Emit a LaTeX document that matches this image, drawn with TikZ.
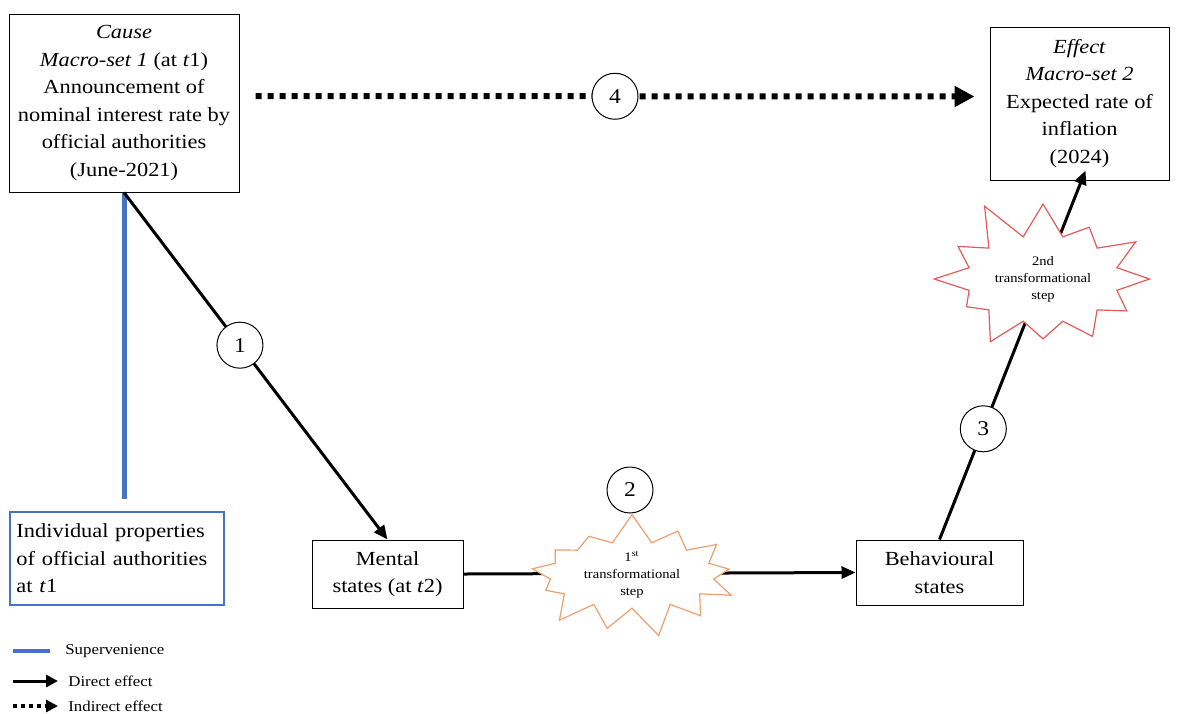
\documentclass[tikz,border=0pt]{standalone}
\usepackage{fontspec}
\setmainfont{Liberation Serif}[FakeStretch=1.12]
\usetikzlibrary{arrows.meta,shapes.symbols}
\definecolor{supblue}{RGB}{68,114,196}
\definecolor{burstorange}{RGB}{236,160,110}
\definecolor{burstred}{RGB}{226,90,90}
\begin{document}
\begin{tikzpicture}[x=0.5pt,y=-0.5pt,
    box/.style={draw,line width=0.5pt,inner sep=2pt,align=center,font=\fontsize{10}{13.75}\selectfont},
    numcirc/.style={circle,draw,solid,fill=white,line width=0.5pt,minimum size=23pt,inner sep=0pt,font=\fontsize{10.5}{12}\selectfont},
    burst/.style={starburst,draw,fill=white,line width=0.6pt,starburst points=13,inner xsep=5pt,inner ysep=0pt,align=center,font=\fontsize{6.5}{8.5}\selectfont},
    direct/.style={line width=1.5pt,-{Triangle[length=7pt,width=6pt]}},
    indirect/.style={line width=3pt,dash pattern=on 3pt off 3pt,-{Triangle[length=10pt,width=10pt]}},
    superv/.style={supblue,line width=2.5pt},
    legtext/.style={anchor=west,inner sep=0pt,font=\fontsize{7.5}{9}\selectfont}]
  \useasboundingbox (0,0) rectangle (1181,713);

  \node[box,minimum width=115pt,minimum height=89pt] (cause) at (124,103)
    {\textit{Cause}\\ \textit{Macro-set 1} (at \textit{t}1)\\ Announcement of\\ nominal interest rate by\\ official authorities\\ (June-2021)};
  \node[box,minimum width=89.5pt,minimum height=76.5pt] (effect) at (1079.5,103.5)
    {\textit{Effect}\\ \textit{Macro-set 2}\\ Expected rate of\\ inflation\\ (2024)};
  \node[box,draw=supblue,line width=1pt,align=left,text width=100pt,minimum height=46.5pt,inner sep=3.5pt] (indiv) at (116.5,558.5)
    {Individual properties\\ of official authorities\\ at \textit{t}1};
  \node[box,minimum width=75.5pt,minimum height=34pt] (mental) at (387.5,574) {Mental\\ states (at \textit{t}2)};
  \node[box,minimum width=83.5pt,minimum height=32.5pt] (behav) at (939.5,572.5) {Behavioural\\ states};

  \draw[superv] (cause.south) -- ([yshift=6pt]cause.south |- indiv.north);
  \draw[direct] (cause.south) -- (mental.north) node[numcirc,pos=.44] (n1) {1};
  \draw[direct] (mental.east) -- (behav.west);
  \draw[direct] (behav.north) -- ([xshift=3pt,yshift=5pt]effect.south) node[numcirc,pos=.3] (n3) {3};
  \draw[indirect] ([xshift=8pt,yshift=3.5pt]cause.east) -- ([xshift=-7.5pt,yshift=3.5pt]effect.west) node[numcirc,pos=.5] (n4) {4};

  \node[burst,draw=burstorange,random starburst=7,starburst point height=15pt] (burst1) at (632,575)
    {1\textsuperscript{st}\\ transformational\\ step};
  \node[numcirc] (n2) at (630,490) {2};
  \node[burst,draw=burstred,starburst points=12,random starburst=11,inner xsep=3pt,inner ysep=4pt,starburst point height=21pt] (burst2) at (1043,279)
    {2nd\\ transformational\\ step};

  % legend
  \coordinate (l1) at (13,651);
  \coordinate (l2) at (13,681);
  \coordinate (l3) at (13,706);
  \node[legtext] (lsup) at (65,651) {Supervenience};
  \node[legtext] (ldir) at (68,681) {Direct effect};
  \node[legtext] (lind) at (68,706) {Indirect effect};
  \draw[supblue,line width=2pt] (l1) -- ([xshift=-7.5pt]lsup.west);
  \draw[line width=1.5pt,-{Triangle[length=6pt,width=6pt]}] (l2) -- ([xshift=-5pt]ldir.west);
  \draw[line width=2pt,dash pattern=on 2pt off 2pt,-{Triangle[length=6pt,width=6pt]}] (l3) -- ([xshift=-5pt]lind.west);
\end{tikzpicture}
\end{document}
